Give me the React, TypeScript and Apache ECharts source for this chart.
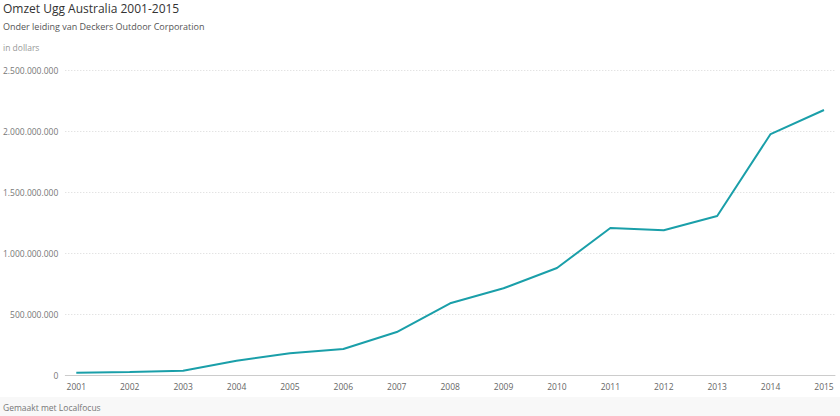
import React, { useEffect, useRef } from "react";
import * as echarts from "echarts";

const years = [2001, 2002, 2003, 2004, 2005, 2006, 2007, 2008, 2009, 2010, 2011, 2012, 2013, 2014, 2015];
const revenue = [
  19000000, 25000000, 35000000, 117000000, 178000000, 213000000, 352000000, 588000000,
  711000000, 877000000, 1205000000, 1186000000, 1303000000, 1975000000, 2172000000,
];
const yTicks = [0, 500000000, 1000000000, 1500000000, 2000000000, 2500000000];

const fmt = (v: number) => String(Math.round(v)).replace(/\B(?=(\d{3})+(?!\d))/g, ".");

export default function App() {
  const ref = useRef<HTMLDivElement>(null);
  useEffect(() => {
    if (!ref.current) return;
    const chart = echarts.init(ref.current, null, { renderer: "svg" });
    const font = "'Open Sans', sans-serif";
    chart.setOption({
      animation: false,
      backgroundColor: "#ffffff",
      textStyle: { fontFamily: font },
      title: [
        { text: "Omzet Ugg Australia 2001-2015", left: 3, top: 2, padding: 0, textStyle: { fontFamily: font, fontSize: 12, fontWeight: "normal", color: "#333" } },
        { text: "Onder leiding van Deckers Outdoor Corporation", left: 3, top: 22, padding: 0, textStyle: { fontFamily: font, fontSize: 9, fontWeight: "normal", color: "#555" } },
        { text: "in dollars", left: 3, top: 43, padding: 0, textStyle: { fontFamily: font, fontSize: 8.5, fontWeight: "normal", color: "#999" } },
      ],
      graphic: [
        { type: "rect", left: 0, top: 397, shape: { width: 840, height: 19 }, style: { fill: "#f8f8f8" }, z: -1 },
        { type: "text", left: 3, top: 403, style: { text: "Gemaakt met Localfocus", fontFamily: font, fontSize: 8.5, fill: "#777" } },
      ],
      grid: { left: 64, right: 5, top: 70, bottom: 41, containLabel: false },
      xAxis: {
        type: "value",
        min: 2000.794,
        max: 2015.206,
        axisLine: { show: true, lineStyle: { color: "#ccc", width: 1 } },
        axisTick: { show: false },
        splitLine: { show: false },
        axisLabel: {
          customValues: years,
          formatter: (v: number) => String(v),
          color: "#666",
          fontSize: 8.5,
          fontFamily: font,
          margin: 7,
        },
      },
      yAxis: {
        type: "value",
        min: 0,
        max: yTicks[yTicks.length - 1],
        interval: 500000000,
        axisLine: { show: false },
        axisTick: { show: false },
        splitLine: { show: true, lineStyle: { color: "#d8d8d8", type: [1, 2], width: 1 } },
        axisLabel: { formatter: (v: number) => fmt(v), color: "#777", fontSize: 8.5, fontFamily: font, margin: 7 },
      },
      series: [
        {
          type: "line",
          data: years.map((y, i) => [y, revenue[i]]),
          showSymbol: false,
          lineStyle: { color: "#1a9fa9", width: 2 },
          itemStyle: { color: "#1a9fa9" },
          z: 3,
        },
      ],
    });
    return () => chart.dispose();
  }, []);
  return <div ref={ref} style={{ position: "fixed", left: 0, top: 0, width: 840, height: 416 }} />;
}
